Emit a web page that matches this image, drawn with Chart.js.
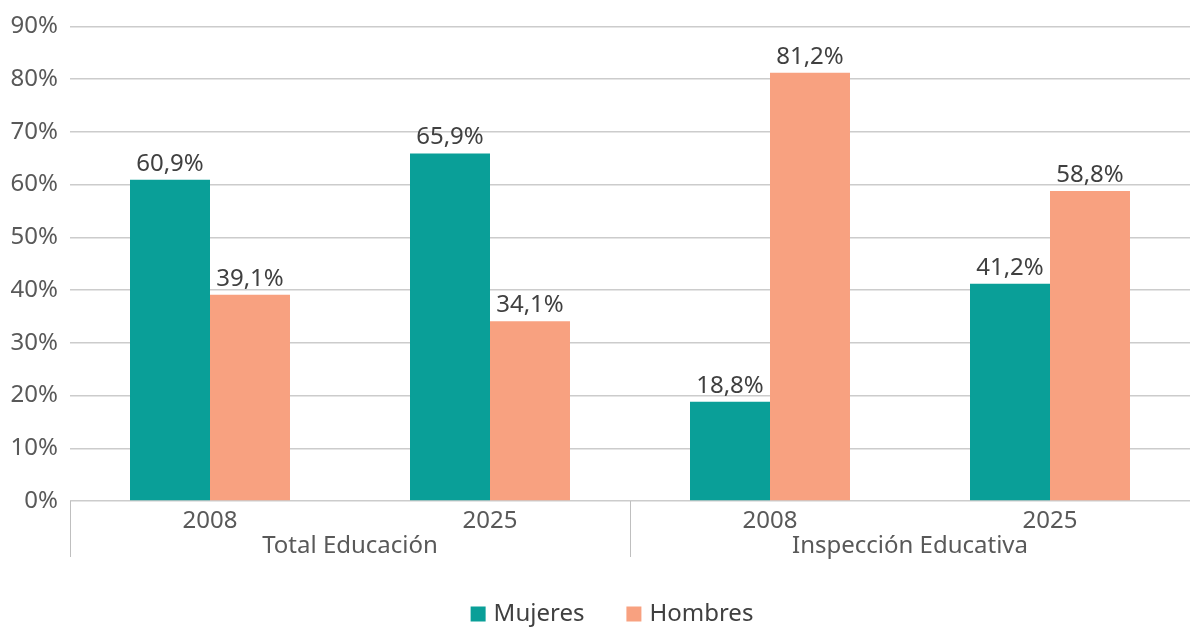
<!DOCTYPE html>
<html>
<head>
<meta charset="utf-8">
<script src="https://cdn.jsdelivr.net/npm/chart.js@4/dist/chart.umd.min.js"></script>
<style>
  html, body { margin: 0; padding: 0; background: #fff; }
  #wrap { width: 1190px; height: 630px; }
</style>
</head>
<body>
<div id="wrap"><canvas id="chart"></canvas></div>
<script>
// Data
const years = ['2008', '2025', '2008', '2025'];
const groups = ['Total Educación', 'Inspección Educativa'];
const mujeres = [60.9, 65.9, 18.8, 41.2];
const hombres = [39.1, 34.1, 81.2, 58.8];
const yTicks = [0, 10, 20, 30, 40, 50, 60, 70, 80, 90];

const FONT = '"Noto Sans", sans-serif';
const SIZE = 24;

// Value labels above each bar
const barLabels = {
  id: 'barLabels',
  afterDatasetsDraw(chart) {
    const ctx = chart.ctx;
    ctx.save();
    ctx.font = SIZE + 'px ' + FONT;
    ctx.fillStyle = '#404040';
    ctx.textAlign = 'center';
    ctx.textBaseline = 'alphabetic';
    chart.data.datasets.forEach((ds, i) => {
      chart.getDatasetMeta(i).data.forEach((bar, j) => {
        const txt = ds.data[j].toFixed(1).replace('.', ',') + '%';
        ctx.fillText(txt, bar.x, bar.y - 9);
      });
    });
    ctx.restore();
  }
};

// Group labels, separators and legend below the x axis
const groupAxis = {
  id: 'groupAxis',
  afterDraw(chart) {
    const ctx = chart.ctx;
    const x = chart.scales.x;
    const area = chart.chartArea;
    const half = (x.getPixelForValue(1) - x.getPixelForValue(0)) / 2;
    ctx.save();
    ctx.strokeStyle = '#bfbfbf';
    ctx.lineWidth = 1;
    [0, 2].forEach((i) => {
      const px = Math.round(x.getPixelForValue(i) - half) + 0.5;
      ctx.beginPath();
      ctx.moveTo(px, area.bottom);
      ctx.lineTo(px, area.bottom + 56);
      ctx.stroke();
    });
    ctx.font = SIZE + 'px ' + FONT;
    ctx.fillStyle = '#595959';
    ctx.textAlign = 'center';
    ctx.textBaseline = 'middle';
    groups.forEach((g, k) => {
      const cx = (x.getPixelForValue(k * 2) + x.getPixelForValue(k * 2 + 1)) / 2;
      ctx.fillText(g, cx, area.bottom + 45);
    });

    // legend
    const items = chart.data.datasets.map((ds) => ({ text: ds.label, color: ds.backgroundColor }));
    const box = 15, gapText = 8, gapItem = 42;
    ctx.textAlign = 'left';
    let total = 0;
    items.forEach((it, k) => {
      it.w = ctx.measureText(it.text).width;
      total += box + gapText + it.w + (k > 0 ? gapItem : 0);
    });
    let lx = 612 - total / 2;
    const ly = 614;
    items.forEach((it) => {
      ctx.fillStyle = it.color;
      ctx.fillRect(lx, ly - box / 2, box, box);
      ctx.fillStyle = '#404040';
      ctx.fillText(it.text, lx + box + gapText, ly);
      lx += box + gapText + it.w + gapItem;
    });
    ctx.restore();
  }
};

new Chart(document.getElementById('chart'), {
  type: 'bar',
  data: {
    labels: years,
    datasets: [
      {
        label: 'Mujeres',
        data: mujeres,
        backgroundColor: '#0a9f98',
        categoryPercentage: 0.5714,
        barPercentage: 1.0,
      },
      {
        label: 'Hombres',
        data: hombres,
        backgroundColor: '#f8a180',
        categoryPercentage: 0.5714,
        barPercentage: 1.0,
      },
    ],
  },
  options: {
    responsive: true,
    maintainAspectRatio: false,
    animation: false,
    layout: { padding: { top: 25, right: 0, left: 0, bottom: 0 } },
    plugins: {
      tooltip: { enabled: false },
      legend: { display: false },
    },
    scales: {
      x: {
        grid: { display: false },
        border: { display: false },
        ticks: {
          font: { family: FONT, size: SIZE },
          color: '#595959',
          padding: -2,
        },
        afterFit(scale) { scale.height = 129; },
      },
      y: {
        min: 0,
        max: 90,
        afterBuildTicks(scale) { scale.ticks = yTicks.map((v) => ({ value: v })); },
        grid: { color: '#cccccc', lineWidth: 1.5, drawTicks: false },
        border: { display: false },
        ticks: {
          font: { family: FONT, size: SIZE },
          color: '#595959',
          padding: 12,
          callback: (v) => v + '%',
        },
        afterFit(scale) { scale.width = 70; },
      },
    },
  },
  plugins: [barLabels, groupAxis],
});
</script>
</body>
</html>
